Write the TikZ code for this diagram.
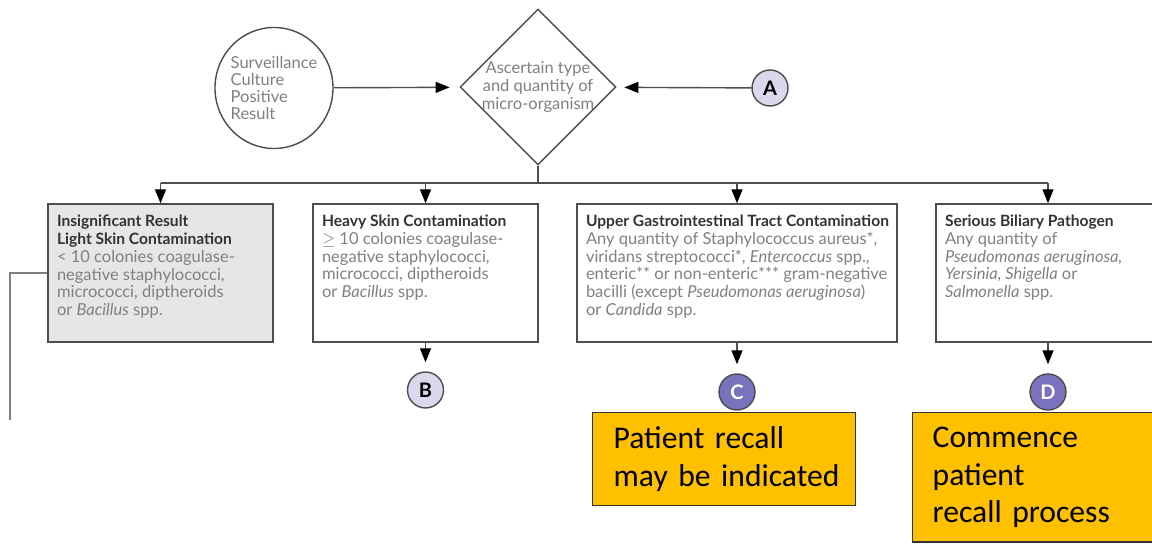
\documentclass[tikz,border=0pt]{standalone}
\usepackage{fontspec}
\setmainfont{Lato}
\newfontfamily\calfont{Carlito}
\usepackage{tikz}
\usetikzlibrary{arrows.meta,positioning,shapes.geometric}
\usepackage{xcolor}
\definecolor{txtgray}{HTML}{808080}
\definecolor{headgray}{HTML}{333333}
\definecolor{linegray}{HTML}{4D4D4D}
\definecolor{boxgray}{HTML}{E6E6E6}
\definecolor{lavlight}{HTML}{DDD7EE}
\definecolor{lavdark}{HTML}{7A72BC}
\definecolor{recall}{HTML}{FFC000}

\begin{document}
\begin{tikzpicture}[x=0.5pt,y=-0.5pt,>={Triangle[length=7pt,width=5.5pt,color=black]},line width=0.7pt,
  body/.style={font=\fontsize{8.25}{8.9}\selectfont,text=txtgray,inner sep=0pt,align=left},
  catbox/.style={draw=linegray,rectangle,minimum height=69pt,inner sep=0pt},
  letter/.style={circle,draw=linegray,minimum size=18pt,inner sep=0pt,font=\fontsize{10}{10}\selectfont\bfseries},
  recallbox/.style={draw=black!80,fill=recall,rectangle,anchor=north west,inner xsep=10.5pt,inner ysep=7pt,
    align=left,font=\calfont\fontsize{15.8}{18.9}\selectfont}]
\clip (0,0) rectangle (1152,544);
\node[ellipse,draw=linegray,minimum width=59pt,minimum height=60.5pt,body,inner xsep=-4pt,inner ysep=0pt,
  font=\fontsize{8.25}{8.5}\selectfont] (surv) at (274,88) {Surveillance\\Culture\\Positive\\Result};
\node[diamond,draw=linegray,minimum width=78pt,minimum height=78pt,body,inner sep=-3pt,
  align=center] (ascertain) at (538,87) {Ascertain type\\and quantity of\\micro-organism};
\node[letter,fill=lavlight] (A) at (770,88) {A};
\draw[->,linegray,shorten >=5pt] (surv) -- (ascertain);
\draw[->,linegray,shorten >=4pt] (A) -- (ascertain);

\node[catbox,fill=boxgray,minimum width=112.5pt] (b1) at (160.5,273) {};
\node[catbox,minimum width=112.5pt] (b2) at (425.5,273) {};
\node[catbox,minimum width=160pt] (b3) at (737,273) {};
\node[catbox,minimum width=112pt] (b4) at (1048,273) {};

\coordinate (bus) at (538,183);
\draw[linegray] (ascertain.south) -- (bus);
\draw[linegray] (b1.north |- bus) -- (b4.north |- bus);
\foreach \b in {b1,b2,b3,b4}
  \draw[->,linegray] (\b.north |- bus) -- (\b.north);

\node[body,below right=5.5pt and 4.5pt of b1.north west] (t1) {{\fontsize{7.8}{8.9}\selectfont\bfseries\color{headgray}Insignificant Result}\\
  {\fontsize{7.8}{8.9}\selectfont\bfseries\color{headgray}Light Skin Contamination}\\
  < 10 colonies coagulase-\\negative staphylococci,\\micrococci, diptheroids\\or \textit{Bacillus} spp.};
\node[body,below right=5.5pt and 4.5pt of b2.north west] (t2) {{\fontsize{7.8}{8.9}\selectfont\bfseries\color{headgray}Heavy Skin Contamination}\\
  $\geq$ 10 colonies coagulase-\\negative staphylococci,\\micrococci, diptheroids\\or \textit{Bacillus} spp.};
\node[body,below right=5.5pt and 4.5pt of b3.north west] (t3) {{\fontsize{7.8}{8.9}\selectfont\bfseries\color{headgray}Upper Gastrointestinal Tract Contamination}\\
  Any quantity of Staphylococcus aureus*,\\viridans streptococci*, \textit{Entercoccus} spp.,\\
  enteric** or non-enteric*** gram-negative\\bacilli (except \textit{Pseudomonas aeruginosa})\\or \textit{Candida} spp.};
\node[body,below right=5.5pt and 4.5pt of b4.north west] (t4) {{\fontsize{7.8}{8.9}\selectfont\bfseries\color{headgray}Serious Biliary Pathogen}\\
  Any quantity of\\\textit{Pseudomonas aeruginosa,}\\\textit{Yersinia, Shigella} or\\\textit{Salmonella} spp.};

\node[letter,fill=lavlight] (B) at (425.5,390) {B};
\node[letter,fill=lavdark,text=white] (C) at (737,392) {C};
\node[letter,fill=lavdark,text=white] (D) at (1048,392) {D};
\draw[->,linegray,shorten >=4.5pt] (b2) -- (B);
\draw[->,linegray,shorten >=4.5pt] (b3) -- (C);
\draw[->,linegray,shorten >=4.5pt] (b4) -- (D);

\coordinate (drop) at (10,420);
\draw[gray] (b1.west) -| (drop);

\node[recallbox,text width=110.5pt] (rc) at (592,412) {\mbox{Patient recall}\\\mbox{may be indicated}};
\node[recallbox,text width=109pt,inner xsep=10pt] (rd) at (912,412) {Commence\\patient\\\mbox{recall process}};
\end{tikzpicture}
\end{document}
